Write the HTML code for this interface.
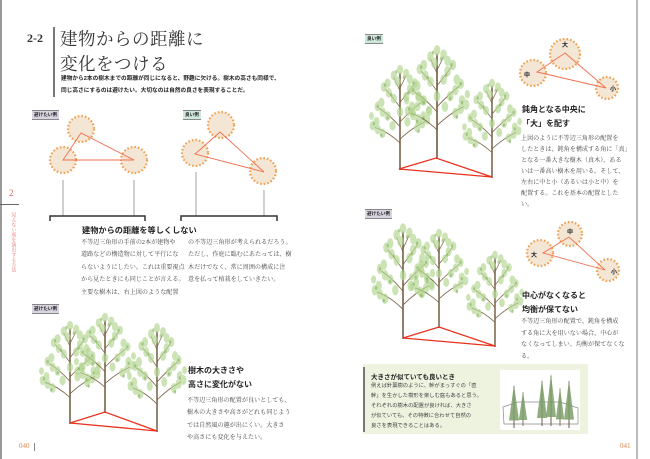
<!DOCTYPE html>
<html><head><meta charset="utf-8">
<style>
body{margin:0;width:650px;height:459px;overflow:hidden;background:#fff;font-family:"Liberation Sans","Noto Sans CJK JP",sans-serif;color:#333;position:relative}
.a{position:absolute;white-space:nowrap}
.serif{font-family:"Liberation Serif","Noto Serif CJK SC",serif}
.body{font-family:"Liberation Serif","Noto Serif CJK SC",serif;font-size:6.1px;line-height:12.4px;color:#444}
.h{font-weight:bold;font-size:8px;line-height:14px;color:#222}
.lab{position:absolute;font-size:4.6px;font-weight:bold;padding:1px 2px;border-top:1px solid #888;border-bottom:1px solid #888;color:#222}
</style></head><body>
<svg width="650" height="459" style="position:absolute;left:0;top:0">
<defs>
<symbol id="t" viewBox="-50 -112 100 112" preserveAspectRatio="none">
<g stroke="#7a6448" fill="none" stroke-linecap="round">
<path d="M0,0 L0,-100" stroke-width="2.6"/>
<path d="M0,-28 Q-20,-40 -40,-44 M0,-32 Q20,-44 40,-50 M0,-45 Q-18,-58 -34,-64 M0,-50 Q18,-62 34,-70 M0,-65 Q-12,-76 -24,-84 M0,-70 Q12,-80 22,-88 M0,-82 L-10,-96 M0,-85 L10,-98" stroke-width="1"/>
</g>
<g fill="#b7d896" opacity=".7">
<circle cx="-44" cy="-46" r="5"/><circle cx="-36" cy="-42" r="5"/><circle cx="-28" cy="-38" r="5"/><circle cx="-38" cy="-50" r="5"/>
<circle cx="44" cy="-52" r="5"/><circle cx="36" cy="-48" r="5"/><circle cx="28" cy="-44" r="5"/><circle cx="38" cy="-56" r="5"/>
<circle cx="-36" cy="-66" r="5"/><circle cx="-28" cy="-60" r="5"/><circle cx="-20" cy="-56" r="5"/><circle cx="-30" cy="-70" r="5"/>
<circle cx="36" cy="-72" r="5"/><circle cx="28" cy="-66" r="5"/><circle cx="20" cy="-60" r="5"/><circle cx="30" cy="-76" r="5"/>
<circle cx="-26" cy="-86" r="5"/><circle cx="-18" cy="-80" r="5"/><circle cx="-10" cy="-74" r="5"/><circle cx="-20" cy="-90" r="5"/>
<circle cx="24" cy="-90" r="5"/><circle cx="16" cy="-84" r="5"/><circle cx="10" cy="-76" r="5"/><circle cx="16" cy="-94" r="5"/>
<circle cx="-10" cy="-98" r="5"/><circle cx="0" cy="-104" r="5"/><circle cx="10" cy="-100" r="5"/><circle cx="-4" cy="-92" r="5"/>
<circle cx="0" cy="-60" r="5"/><circle cx="-12" cy="-46" r="5"/><circle cx="12" cy="-50" r="5"/><circle cx="-46" cy="-56" r="4"/><circle cx="46" cy="-62" r="4"/>
</g>
<g fill="#7fae58" opacity=".55">
<circle cx="-42" cy="-48" r="1.8"/><circle cx="-30" cy="-36" r="1.8"/><circle cx="38" cy="-54" r="1.8"/><circle cx="30" cy="-40" r="1.8"/>
<circle cx="-36" cy="-66" r="1.8"/><circle cx="-20" cy="-54" r="1.8"/><circle cx="36" cy="-72" r="1.8"/><circle cx="20" cy="-58" r="1.8"/>
<circle cx="-24" cy="-88" r="1.8"/><circle cx="22" cy="-90" r="1.8"/><circle cx="-6" cy="-102" r="1.8"/><circle cx="6" cy="-96" r="1.8"/>
<circle cx="-14" cy="-78" r="1.8"/><circle cx="14" cy="-80" r="1.8"/><circle cx="0" cy="-64" r="1.8"/>
</g>
</symbol>
<symbol id="c" viewBox="0 0 12 60" preserveAspectRatio="none">
<path d="M6,60 L6,4" stroke="#6b5a44" stroke-width="1"/>
<path d="M6,2 L1,50 L11,50 Z" fill="#7d9f6a" opacity=".85"/>
</symbol>
</defs>
<rect x="0" y="0" width="2" height="459" fill="#999"/>
<rect x="636" y="0" width="2" height="459" fill="#bbb"/>
<rect x="53" y="27" width="2" height="70" fill="#777"/>
<rect x="0" y="204" width="19" height="1" fill="#666"/>

<g fill="#f4e6d4" stroke="#f0a050" stroke-width="2.2" stroke-dasharray="1.6 2">
<circle cx="81" cy="129" r="13"/><circle cx="63" cy="160" r="13"/><circle cx="134" cy="160" r="13"/>
<circle cx="221" cy="125" r="13"/><circle cx="195" cy="153" r="13"/><circle cx="263" cy="171" r="13"/>
<circle cx="565" cy="54" r="15"/><circle cx="533" cy="73" r="13"/><circle cx="607" cy="88" r="11"/>
<circle cx="570" cy="234" r="12"/><circle cx="540" cy="253" r="13"/><circle cx="608" cy="270" r="11"/>
</g>
<g fill="none" stroke="#f07050" stroke-width="0.9">
<path d="M81,133 L63,160 L134,160 Z"/>
<path d="M220,132 L195,154 L264,172 Z"/>
<path d="M565,53 L537,72 L606,88 Z"/>
<path d="M569,237 L543,253 L605,270 Z"/>
</g>
<g stroke="#888" stroke-width="0.8">
<line x1="63" y1="180" x2="63" y2="216"/><line x1="134" y1="180" x2="134" y2="216"/>
<line x1="196" y1="172" x2="196" y2="216"/><line x1="264" y1="190" x2="264" y2="216"/>
</g>
<g fill="none" stroke="#333" stroke-width="1.5">
<path d="M50,221 L50,216 L145,216 L145,221"/>
<path d="M181,221 L181,216 L277,216 L277,221"/>
</g>
<g font-size="6" font-weight="bold" fill="#222" text-anchor="middle">
<text x="565" y="47">大</text><text x="527" y="77">中</text><text x="613" y="91">小</text>
<text x="570" y="234">中</text><text x="534" y="257">大</text><text x="614" y="274">小</text>
</g>

<use href="#t" x="369" y="62" width="62" height="108"/>
<use href="#t" x="404" y="42" width="66" height="117"/>
<use href="#t" x="462" y="76" width="60" height="102"/>
<path d="M399,169 L436,158 L492,177 Z" fill="none" stroke="#e8321e" stroke-width="1.3"/>
<use href="#t" x="371" y="220" width="64" height="119"/>
<use href="#t" x="409" y="226" width="60" height="102"/>
<use href="#t" x="466" y="248" width="58" height="99"/>
<path d="M403,338 L439,327 L495,346 Z" fill="none" stroke="#e8321e" stroke-width="1.3"/>
<use href="#t" x="39" y="318" width="62" height="106"/>
<use href="#t" x="74" y="310" width="62" height="103"/>
<use href="#t" x="127" y="320" width="60" height="112"/>
<path d="M70,423 L105,412 L157,431 Z" fill="none" stroke="#e8321e" stroke-width="1.3"/>

<rect x="363" y="364" width="225" height="70" fill="#eef3e0"/>
<rect x="363" y="367" width="2" height="65" fill="#777"/>
<rect x="500" y="370" width="80" height="60" fill="#fff"/>
<g fill="none" stroke="#888" stroke-width="0.7">
<path d="M503,407 L518,402 L560,402 L578,408 L578,424 L504,424 Z"/>
</g>
<use href="#c" x="508" y="383" width="12" height="45"/>
<use href="#c" x="518" y="390" width="10" height="36"/>
<use href="#c" x="536" y="378" width="12" height="48"/>
<use href="#c" x="545" y="372" width="12" height="54"/>
<use href="#c" x="555" y="386" width="10" height="40"/>
<use href="#c" x="563" y="378" width="12" height="50"/>
</svg>

<div class="a serif" style="left:27px;top:31px;font-size:12px;font-weight:bold;color:#333">2-2</div>
<div class="a serif" style="left:60px;top:27px;font-size:17.5px;line-height:25px;letter-spacing:0.5px;color:#333">建物からの距離に<br>変化をつける</div>
<div class="a" style="left:61px;top:73px;font-size:5.7px;line-height:12px;font-weight:bold;color:#222">建物から2本の樹木までの距離が同じになると、野趣に欠ける。樹木の高さも同様で、<br>同じ高さにするのは避けたい。大切なのは自然の良さを表現することだ。</div>

<div class="lab" style="left:32px;top:110px;background:#d8d4e0">避けたい例</div>
<div class="lab" style="left:183px;top:110px;background:#cfe8dc">良い例</div>
<div class="lab" style="left:32px;top:304px;background:#d8d4e0">避けたい例</div>
<div class="lab" style="left:365px;top:34px;background:#cfe8dc">良い例</div>
<div class="lab" style="left:365px;top:209px;background:#d8d4e0">避けたい例</div>

<div class="a serif" style="left:9px;top:188px;font-size:9px;color:#e06060">2</div>
<div class="a serif" style="left:10px;top:212px;font-size:5px;line-height:5.4px;color:#e07070;writing-mode:vertical-rl">見えない庭を演出する方法</div>

<div class="a h" style="left:82px;top:224px;font-size:8.2px">建物からの距離を等しくしない</div>
<div class="a body" style="left:81px;top:237px">不等辺三角形の手前の2本が建物や<br>道路などの構造物に対して平行にな<br>らないようにしたい。これは重要視点<br>から見たときにも同じことが言える。<br>主要な樹木は、右上図のような配置</div>
<div class="a body" style="left:188px;top:237px">の不等辺三角形が考えられるだろう。<br>ただし、作庭に臨むにあたっては、樹<br>木だけでなく、常に周囲の構成に注<br>意を払って植栽をしていきたい。</div>

<div class="a h" style="left:188px;top:364px">樹木の大きさや<br>高さに変化がない</div>
<div class="a body" style="left:187px;top:395px;line-height:12.3px">不等辺三角形の配置が良いとしても、<br>樹木の大きさや高さがどれも同じよう<br>では自然風の趣が出にくい。大きさ<br>や高さにも変化を与えたい。</div>

<div class="a h" style="left:522px;top:103px">鈍角となる中央に<br>「大」を配す</div>
<div class="a body" style="left:521px;top:134px;line-height:11px">上図のように不等辺三角形の配置を<br>したときは、鈍角を構成する角に「真」<br>となる一番大きな樹木（真木）、ある<br>いは一番高い樹木を用いる。そして、<br>左右に中と小（あるいは小と中）を<br>配置する。これを基本の配置とした<br>い。</div>

<div class="a h" style="left:522px;top:289px">中心がなくなると<br>均衡が保てない</div>
<div class="a body" style="left:521px;top:317px;line-height:11.5px">不等辺三角形の配置で、鈍角を構成<br>する角に大を用いない場合、中心が<br>なくなってしまい、均衡が保てなくな<br>る。</div>

<div class="a" style="left:371px;top:371px;font-size:6.5px;font-weight:bold;color:#222">大きさが似ていても良いとき</div>
<div class="a" style="left:371px;top:381px;font-size:5.3px;line-height:10px;color:#444">例えば針葉樹のように、幹がまっすぐの「直<br>幹」を生かした樹形を楽しむ庭もあると思う。<br>それぞれの樹木の配置が良ければ、大きさ<br>が似ていても、その特徴に合わせて自然の<br>良さを表現できることはある。</div>

<div class="a serif" style="left:19px;top:442px;font-size:7px;color:#e08850">040</div>
<div class="a" style="left:34px;top:443px;width:1px;height:8px;background:#888"></div>
<div class="a serif" style="left:620px;top:442px;font-size:7px;color:#e08850">041</div>
</body></html>
